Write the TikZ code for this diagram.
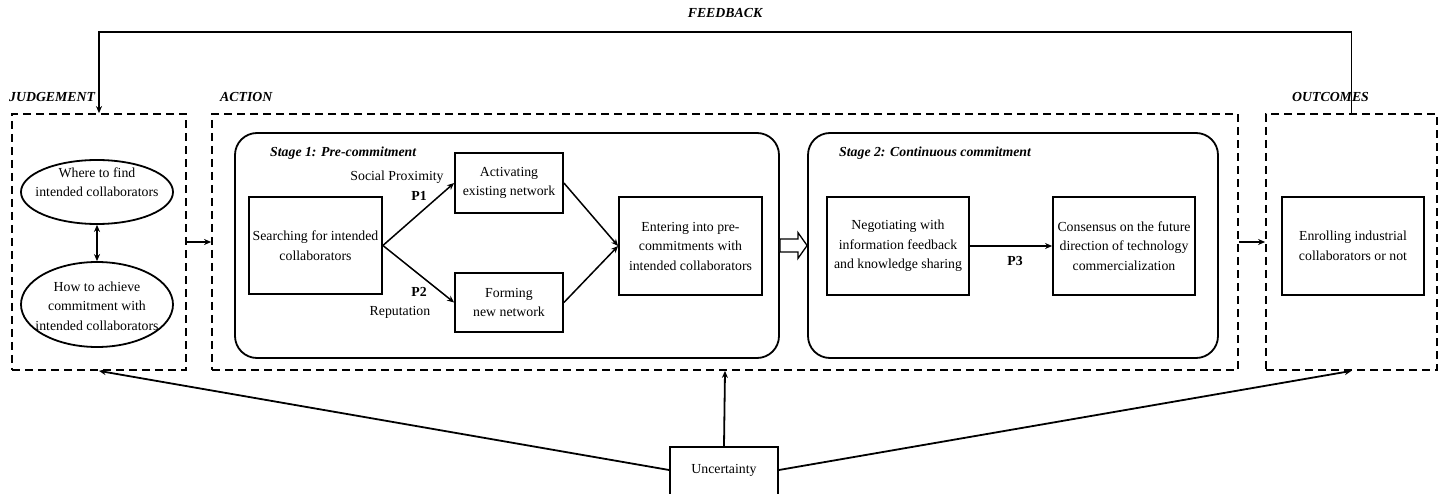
\documentclass[tikz,border=0pt]{standalone}
\usepackage{fontspec}
\setmainfont{Liberation Serif}
\usetikzlibrary{shapes.geometric,arrows.meta,calc}
\begin{document}
\begin{tikzpicture}[x=1pt,y=-1pt,
  every node/.style={font=\fontsize{13.8}{19.5}\selectfont, inner sep=0pt},
  lbl/.style={font=\fontsize{13.8}{16}\selectfont\bfseries\itshape},
  box/.style={draw, line width=1.8pt, align=center},
  dbox/.style={draw, line width=1.8pt, dash pattern=on 8pt off 5pt},
  stagebox/.style={draw, line width=1.8pt, rounded corners=22pt},
  ell/.style={draw, ellipse, line width=1.8pt},
  etext/.style={align=center},
  arr/.style={line width=1.8pt, -{Stealth[length=7pt,width=6pt]}},
  thin arr/.style={line width=1.5pt, -{Stealth[length=7pt,width=6pt]}}
]
\useasboundingbox (0,0) rectangle (1446,494);
\clip (0,0) rectangle (1446,494);

% outer dashed frames
\node[dbox, minimum width=174pt, minimum height=256pt] (judg) at (99,242) {};
\node[dbox, minimum width=1026pt, minimum height=256pt] (act) at (725,242) {};
\node[dbox, minimum width=171pt, minimum height=256pt] (out) at (1351.5,242) {};

\node[lbl, anchor=west] (ljudg) at (9,97) {JUDGEMENT};
\node[lbl, anchor=west] (lact) at (220,97) {ACTION};
\node[lbl, anchor=west] (lout) at (1292,97) {OUTCOMES};
\node[lbl] (lfb) at (725,13) {FEEDBACK};

% judgement ellipses
\node[ell, minimum width=152pt, minimum height=64pt] (e1) at (97,192) {};
\node[etext] (t1) at (97,182) {Where to find\\intended collaborators};
\node[ell, minimum width=152pt, minimum height=85pt] (e2) at (97,304.5) {};
\node[etext] (t2) at (97,306) {How to achieve\\commitment with\\intended collaborators};
\draw[line width=1.8pt, {Stealth[length=7pt,width=6pt]}-{Stealth[length=7pt,width=6pt]}] (e1.south) -- (e2.north);

% stage boxes
\node[stagebox, minimum width=544pt, minimum height=225pt] (s1) at (507,245.5) {};
\node[stagebox, minimum width=410pt, minimum height=225pt] (s2) at (1013,245.5) {};
\node[lbl, anchor=west] (ls1) at (270,153) {Stage 1: Pre-commitment};
\node[lbl, anchor=west] (ls2) at (839,153) {Stage 2: Continuous commitment};

% stage 1 content
\node[box, minimum width=133pt, minimum height=97pt] (search) at (315.5,245.5) {Searching for intended\\collaborators};
\node[box, minimum width=108pt, minimum height=60pt] (activ) at (509,183) {Activating\\existing network};
\node[box, minimum width=108pt, minimum height=59pt] (form) at (509,302.5) {Forming\\new network};
\node[box, minimum width=143pt, minimum height=98pt] (enter) at (690.5,246) {Entering into pre-\\commitments with\\intended collaborators};

\draw[thin arr] (search.east) -- (activ.west);
\draw[thin arr] (search.east) -- (form.west);
\draw[thin arr] (activ.east) -- (enter.west);
\draw[thin arr] (form.east) -- (enter.west);

\node (lsp) at (397,177) {Social Proximity};
\node[font=\fontsize{13.8}{16}\selectfont\bfseries] (p1) at (419,196) {P1};
\node[font=\fontsize{13.8}{16}\selectfont\bfseries] (p2) at (419,292) {P2};
\node (lrep) at (400,312) {Reputation};

% block arrow between stages
\coordinate (ba) at (s1.east);
\draw[line width=1.3pt, fill=white]
  ($(ba)+(0,-6.5)$) -- ++(18,0) -- ++(0,-6.5) -- ($(s2.west)$) -- ($(ba)+(18,13)$) -- ++(0,-6.5) -- ($(ba)+(0,6.5)$) -- cycle;

% stage 2 content
\node[box, minimum width=142pt, minimum height=98pt] (neg) at (898,246) {Negotiating with\\information feedback\\and knowledge sharing};
\node[box, minimum width=142pt, minimum height=98pt] (cons) at (1124,246) {Consensus on the future\\direction of technology\\commercialization};
\draw[arr] (neg.east) -- (cons.west) node[pos=0.55, below=9pt, font=\fontsize{13.8}{16}\selectfont\bfseries] (p3) {P3};

% outcomes
\node[box, minimum width=142pt, minimum height=98pt] (enrol) at (1353,246) {Enrolling industrial\\collaborators or not};

% flows between frames
\draw[arr] (judg.east) -- (act.west);
\draw[arr] (act.east) -- (out.west);

% feedback
\draw[arr] (out.north) -- ++(0,-81) -| (judg.north);

% uncertainty
\node[box, minimum width=108pt, minimum height=80pt, anchor=north] (unc) at (724,446) {};
\node (lunc) at (724,470) {Uncertainty};
\coordinate (uL) at ($(unc.north west)+(0,24)$);
\coordinate (uR) at ($(unc.north east)+(0,24)$);
\draw[arr] (unc.north) -- (act.south);
\draw[arr] (uL) -- (judg.south);
\draw[arr] (uR) -- (out.south);
\end{tikzpicture}
\end{document}
